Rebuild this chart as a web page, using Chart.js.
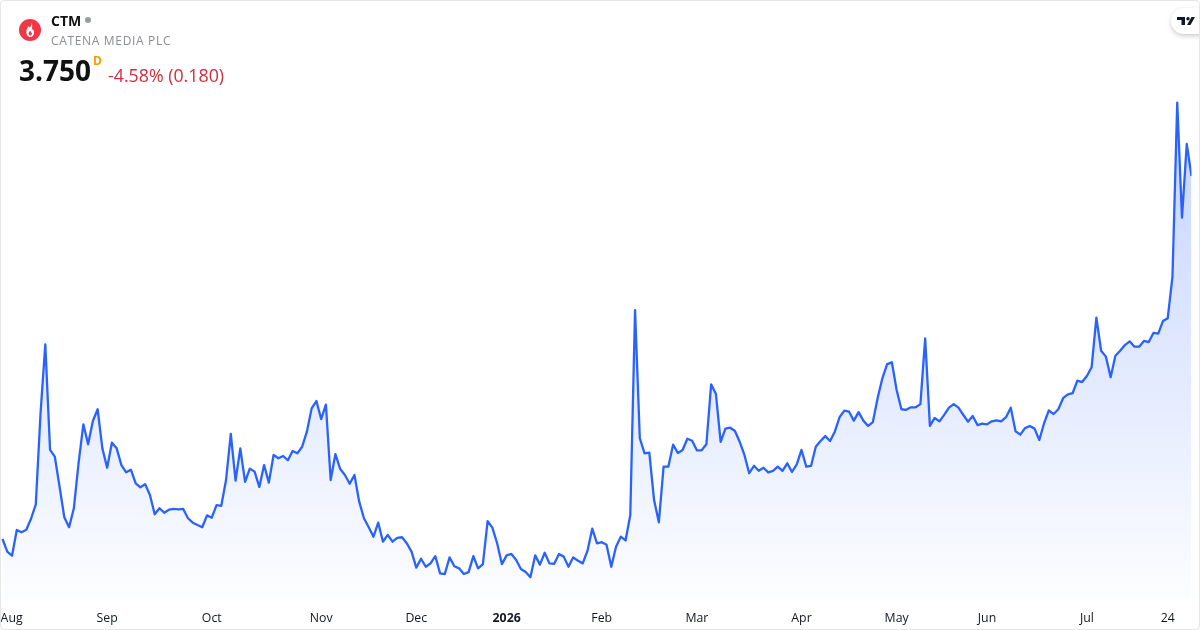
<!DOCTYPE html>
<html>
<head>
<meta charset="utf-8">
<title>CTM</title>
<script src="https://cdn.jsdelivr.net/npm/chart.js@4"></script>
<style>
  html, body { margin: 0; padding: 0; background: #fff; }
  #wrap { position: relative; width: 1200px; height: 630px; overflow: hidden; font-family: "Open Sans", sans-serif; }
  #wrap canvas { position: absolute; left: 0; top: 0; }
  #frame { position: absolute; left: 0; top: 0; width: 1198px; height: 628px; border: 1px solid #e6e6e6; border-radius: 4px; pointer-events: none; }
  .txt { position: absolute; white-space: nowrap; }
  #symbol { left: 51px; top: 11px; font-size: 14px; line-height: 19px; font-weight: 700; color: #111; }
  #dot { position: absolute; left: 85px; top: 17px; width: 6px; height: 6px; border-radius: 50%; background: #9a9ca3; }
  #name { left: 51px; top: 32px; font-size: 12px; line-height: 17px; color: #8a8c93; letter-spacing: 0.67px; }
  #price { left: 19px; top: 51px; font-size: 28px; line-height: 38px; font-weight: 700; color: #111; }
  #flag { left: 93px; top: 53px; font-size: 12px; line-height: 15px; font-weight: 700; color: #ff9800; }
  #change { left: 108px; top: 63px; font-size: 17.8px; line-height: 24px; color: #cc2f3c; }
  #logo { position: absolute; left: 19px; top: 19px; }
  #tv { position: absolute; left: 1171px; top: 8px; width: 40px; height: 26px; border-radius: 13px; background: #fff; box-shadow: 0 2px 5px rgba(0,0,0,0.2); }
  #tvmark { position: absolute; left: 1177px; top: 16px; }
</style>
</head>
<body>
<div id="wrap">
  <canvas id="priceChart" width="1200" height="630"></canvas>
  <svg id="logo" width="22" height="22" viewBox="0 0 22 22">
    <circle cx="11" cy="11" r="11" fill="#f23645"/>
    <path d="M12.500 3.500c.4 2.600-.8 3.900-2 5.300-.4-.6-.6-1.200-.7-1.900C8.300 8.400 7.300 10.600 7.300 13c0 2.800 1.700 5 4 5 2.200 0 3.700-1.900 3.700-4.300 0-1.500-.5-2.700-1.200-3.900-.2.700-.5 1.200-1 1.600.3-2.900.9-5.400-.3-7.900z" fill="#fff"/>
    <path d="M11.200 11.500c-.9 1-1.500 2-1.500 3.100 0 1.200.7 2 1.600 2 1 0 1.600-.8 1.600-1.800 0-1.300-1.300-1.800-1.700-3.300z" fill="#f23645"/>
  </svg>
  <div class="txt" id="symbol">CTM</div>
  <div id="dot"></div>
  <div class="txt" id="name">CATENA MEDIA PLC</div>
  <div class="txt" id="price">3.750</div>
  <div class="txt" id="flag">D</div>
  <div class="txt" id="change">-4.58% (0.180)</div>
  <div id="tv"></div>
  <svg id="tvmark" width="18" height="10" viewBox="0 0 18 10">
    <path d="M0 1h8v8H4.500V4H0z" fill="#131722"/>
    <circle cx="11" cy="2.700" r="1.700" fill="#131722"/>
    <path d="M14.500 1H18l-4.500 8H10z" fill="#131722"/>
  </svg>
  <div id="frame"></div>
</div>
<script>
// === Daily closes ===
const closePrices = [
  1.708, 1.637, 1.614, 1.759, 1.746, 1.760, 1.822, 1.903, 2.417, 2.803,
  2.209, 2.171, 2.002, 1.830, 1.774, 1.881, 2.136, 2.353, 2.241, 2.372,
  2.438, 2.218, 2.109, 2.250, 2.218, 2.124, 2.083, 2.098, 2.021, 1.999,
  2.016, 1.956, 1.847, 1.881, 1.856, 1.873, 1.877, 1.875, 1.877, 1.825,
  1.800, 1.787, 1.774, 1.841, 1.828, 1.899, 1.895, 2.040, 2.299, 2.036,
  2.218, 2.030, 2.104, 2.087, 2.001, 2.124, 2.025, 2.181, 2.162, 2.175,
  2.151, 2.203, 2.190, 2.227, 2.312, 2.443, 2.484, 2.383, 2.464, 2.040,
  2.186, 2.102, 2.068, 2.019, 2.068, 1.918, 1.825, 1.774, 1.721, 1.800,
  1.693, 1.731, 1.693, 1.715, 1.718, 1.684, 1.637, 1.547, 1.597, 1.552,
  1.571, 1.612, 1.515, 1.511, 1.605, 1.555, 1.543, 1.511, 1.522, 1.612,
  1.543, 1.567, 1.809, 1.772, 1.684, 1.567, 1.616, 1.624, 1.590, 1.539,
  1.522, 1.493, 1.616, 1.564, 1.631, 1.571, 1.569, 1.624, 1.609, 1.552,
  1.605, 1.586, 1.571, 1.642, 1.766, 1.684, 1.690, 1.676, 1.552, 1.665,
  1.721, 1.700, 1.843, 2.996, 2.275, 2.190, 2.194, 1.927, 1.802, 2.115,
  2.115, 2.239, 2.192, 2.209, 2.272, 2.261, 2.207, 2.207, 2.241, 2.578,
  2.524, 2.254, 2.329, 2.334, 2.316, 2.255, 2.181, 2.078, 2.120, 2.092,
  2.109, 2.083, 2.091, 2.115, 2.091, 2.134, 2.085, 2.128, 2.209, 2.115,
  2.119, 2.227, 2.259, 2.287, 2.259, 2.312, 2.393, 2.430, 2.424, 2.374,
  2.422, 2.374, 2.344, 2.366, 2.500, 2.612, 2.692, 2.702, 2.546, 2.438,
  2.435, 2.449, 2.449, 2.467, 2.837, 2.344, 2.389, 2.370, 2.406, 2.447,
  2.467, 2.447, 2.407, 2.368, 2.400, 2.349, 2.357, 2.353, 2.370, 2.376,
  2.370, 2.393, 2.447, 2.314, 2.295, 2.332, 2.344, 2.329, 2.265, 2.359,
  2.432, 2.411, 2.438, 2.500, 2.522, 2.528, 2.599, 2.591, 2.625, 2.674,
  2.953, 2.767, 2.734, 2.618, 2.739, 2.767, 2.799, 2.820, 2.790, 2.790,
  2.822, 2.816, 2.867, 2.863, 2.934, 2.950, 3.184, 4.162, 3.515, 3.930,
  3.750
];

// === Time axis labels, placed by trading-day index ===
const tickPositions = [-0.4, 22, 44, 67, 87, 106, 126, 146, 168, 188, 207, 228, 245, 250];
const tickLabels = ["Aug", "Sep", "Oct", "Nov", "Dec", "2026", "Feb", "Mar", "Apr", "May", "Jun", "Jul", "24", ""];

const yMin = 1.365;
const yMax = 4.74;

// === Area fill fades out towards the time axis ===
function areaGradient(context) {
  const { ctx, chartArea } = context.chart;
  if (!chartArea) return "rgba(41,98,255,0.1)";
  const g = ctx.createLinearGradient(0, 100, 0, chartArea.bottom);
  g.addColorStop(0, "rgba(41,98,255,0.28)");
  g.addColorStop(1, "rgba(41,98,255,0.01)");
  return g;
}

const ctx = document.getElementById("priceChart").getContext("2d");
new Chart(ctx, {
  type: "line",
  data: {
    datasets: [
      {
        data: closePrices.map((close, i) => ({ x: i, y: close })),
        borderColor: "#2962FF",
        borderWidth: 2.3,
        backgroundColor: areaGradient,
        fill: "start",
        pointRadius: 0,
        tension: 0,
        borderJoinStyle: "round"
      }
    ]
  },
  options: {
    responsive: false,
    animation: false,
    layout: { padding: { left: 0.6, right: 8.5, top: 0, bottom: 0 } },
    plugins: { legend: { display: false }, tooltip: { enabled: false } },
    scales: {
      x: {
        type: "linear",
        min: tickPositions[0],
        max: closePrices.length - 1,
        grid: { display: false, tickLength: 11 },
        border: { display: false },
        afterBuildTicks: (axis) => {
          axis.ticks = tickPositions.map((value) => ({ value }));
        },
        afterFit: (axis) => {
          axis.height = 30;
        },
        ticks: {
          autoSkip: false,
          maxRotation: 0,
          align: "inner",
          padding: 0,
          color: "#131722",
          font: (c) => ({
            family: "'Open Sans', sans-serif",
            size: 12.3,
            weight: c.tick && c.tick.value === 106 ? "bold" : "normal"
          }),
          callback: (value) => tickLabels[tickPositions.indexOf(value)]
        }
      },
      y: { display: false, min: yMin, max: yMax }
    }
  }
});
</script>
</body>
</html>
